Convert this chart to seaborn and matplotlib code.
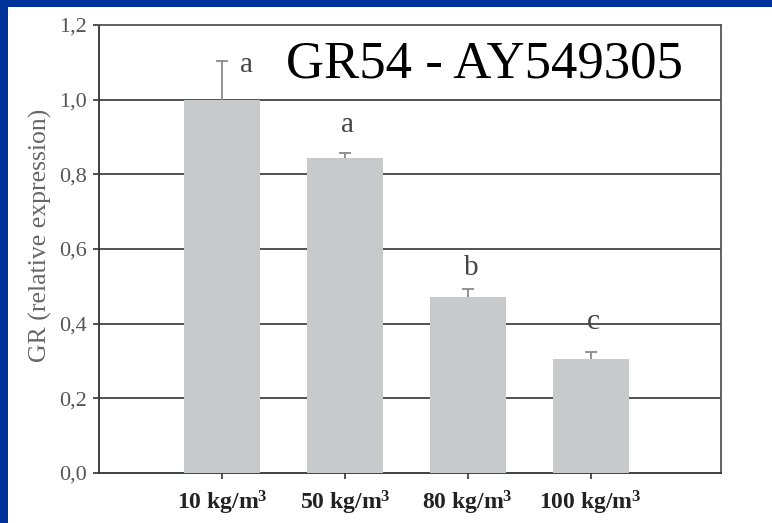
import matplotlib
matplotlib.use("Agg")
import matplotlib.pyplot as plt
import seaborn as sns
import pandas as pd
from matplotlib.patches import Rectangle

categories = ["10 kg/m$^{\\mathbf{3}}$", "50 kg/m$^{\\mathbf{3}}$", "80 kg/m$^{\\mathbf{3}}$", "100 kg/m$^{\\mathbf{3}}$"]
values = [1.0, 0.845, 0.472, 0.305]
errors = [0.103, 0.011, 0.021, 0.020]
letters = ["a", "a", "b", "c"]
yticks = [0.0, 0.2, 0.4, 0.6, 0.8, 1.0, 1.2]
ytick_labels = ["0,0", "0,2", "0,4", "0,6", "0,8", "1,0", "1,2"]
title = "GR54 - AY549305"
ylabel = "GR (relative expression)"

sns.set_style("white")
plt.rcParams['font.family'] = ['Liberation Serif', 'DejaVu Serif']
plt.rcParams['mathtext.fontset'] = 'custom'
plt.rcParams['mathtext.rm'] = 'Liberation Serif'
plt.rcParams['mathtext.bf'] = 'Liberation Serif:bold'
plt.rcParams['mathtext.it'] = 'Liberation Serif:italic'

fig = plt.figure(figsize=(7.72, 5.23), dpi=100)
fig.patch.set_facecolor("#003399")
fig.patches.append(Rectangle((8/772, 0), 1, 1 - 7/523, transform=fig.transFigure,
                             facecolor="white", edgecolor="none", zorder=-10))
ax = fig.add_axes([99/772, 1 - 473/523, (721 - 99)/772, (473 - 25)/523])
ax.set_zorder(1)
ax.set_facecolor("white")

df = pd.DataFrame({"cat": categories, "val": values})
sns.barplot(data=df, x="cat", y="val", color="#c8c9cb", saturation=1, width=0.62,
            ax=ax, zorder=3, edgecolor="none")
xs = list(range(len(categories)))
tops = [v + e for v, e in zip(values, errors)]
ax.vlines(xs, values, tops, color="#8a8a8a", lw=1.3, zorder=4)
ax.hlines(tops, [x - 0.05 for x in xs], [x + 0.05 for x in xs], color="#8a8a8a", lw=1.3, zorder=4)

letter_dx = [0.2, 0.02, 0.03, 0.02]
letter_dy = [-0.029, 0.057, 0.037, 0.061]
for i, (t, l) in enumerate(zip(tops, letters)):
    ax.text(i + letter_dx[i], t + letter_dy[i], l, ha="center", va="baseline",
            fontsize=21, color="#444444", zorder=5)

ax.set_ylim(0, 1.2)
ax.set_xlim(-1.0, 4.06)
ax.set_yticks(yticks)
ax.set_yticklabels(ytick_labels, fontsize=16, color="#555555")
ax.set_xticks(xs)
ax.set_xticklabels(categories, fontsize=17, fontweight="bold", color="#222222")
ax.set_xlabel("")
ax.set_ylabel(ylabel, fontsize=18.5, color="#666666")
ax.yaxis.set_label_coords(-0.0755, 0.531)
for y in yticks[1:-1]:
    ax.axhline(y, color="#444444", lw=1.3, zorder=1)
ax.tick_params(axis="y", direction="out", length=4.5, width=1.2, color="#333333", pad=4, left=True)
ax.tick_params(axis="x", direction="out", length=4.3, width=1.2, color="#333333", pad=7, bottom=True)
for s in ["left", "bottom"]:
    ax.spines[s].set_color("#333333")
    ax.spines[s].set_linewidth(1.3)
for s in ["top", "right"]:
    ax.spines[s].set_color("#555555")
    ax.spines[s].set_linewidth(1.3)

ax.text(0.62, 0.911, title, transform=ax.transAxes, ha="center", va="center",
        fontsize=38, color="black", zorder=6)

fig.savefig("out.png", dpi=100, facecolor=fig.get_facecolor())
